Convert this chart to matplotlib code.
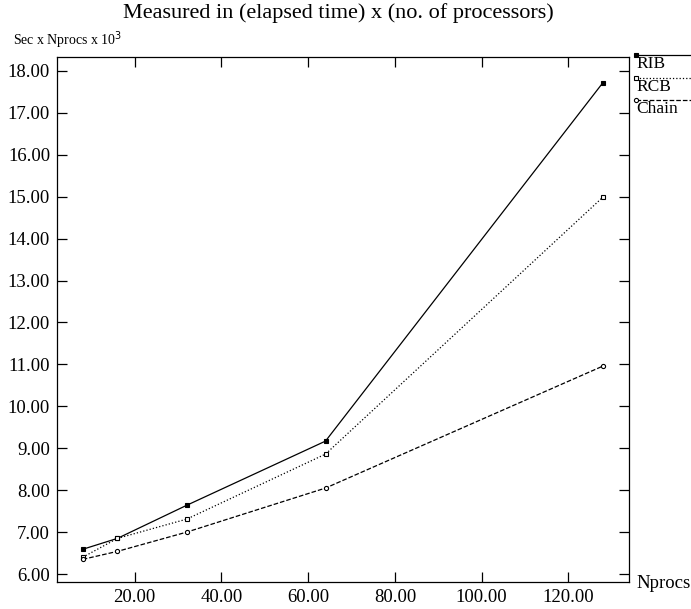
import numpy as np
import matplotlib.pyplot as plt
from matplotlib.lines import Line2D

plt.rcParams['font.family'] = ['Liberation Serif', 'DejaVu Serif']

nprocs = [8, 16, 32, 64, 128]
rib = [6.59, 6.85, 7.64, 9.17, 17.72]
rcb = [6.40, 6.85, 7.31, 8.86, 14.99]
chain = [6.35, 6.54, 7.00, 8.05, 10.96]

series = [("RIB", rib, '-', 's', 'black'),
          ("RCB", rcb, ':', 's', 'white'),
          ("Chain", chain, '--', 'o', 'white')]

fig = plt.figure(figsize=(6.91, 6.09), dpi=100)
W, H = 691.0, 609.0
ax = fig.add_axes([57/W, 1-582/H, 572/W, 525/H])

for name, vals, ls, mk, fc in series:
    ax.plot(nprocs, vals, linestyle=ls, color='black', linewidth=0.9,
            marker=mk, markersize=3.5 if mk == 's' else 3,
            markerfacecolor=fc, markeredgecolor='black', markeredgewidth=0.8)

ax.set_xlim(2.07, 134.0)
ax.set_ylim(5.81, 18.33)
ax.set_xticks(np.arange(20, 121, 20))
ax.set_yticks(np.arange(6, 19, 1))
ax.xaxis.set_major_formatter(plt.FormatStrFormatter('%.2f'))
ax.yaxis.set_major_formatter(plt.FormatStrFormatter('%.2f'))
ax.tick_params(direction='in', length=7, width=0.9, top=True, right=True,
               labelsize=13.5, pad=5)
for s in ax.spines.values():
    s.set_linewidth(0.9)

fig.text(338/W, 1-13/H, "Measured in (elapsed time) x (no. of processors)",
         ha='center', va='center', fontsize=16)
fig.text(13/W, 1-40/H, r"Sec x Nprocs x 10$^{3}$", ha='left', va='center',
         fontsize=10)
fig.text(636/W, 1-583/H, "Nprocs", ha='left', va='center', fontsize=13.5)

# legend at the right
leg_y = [55, 78, 100]
for (name, vals, ls, mk, fc), y in zip(series, leg_y):
    fig.add_artist(Line2D([636/W, 691/W], [1-y/H, 1-y/H], transform=fig.transFigure,
                          linestyle=ls, color='black', linewidth=0.9))
    fig.add_artist(Line2D([636/W], [1-y/H], transform=fig.transFigure,
                          marker=mk, markersize=3.5 if mk == 's' else 3,
                          markerfacecolor=fc, markeredgecolor='black',
                          markeredgewidth=0.8, linestyle='none'))
    fig.text(636/W, 1-(y+9)/H, name, ha='left', va='center', fontsize=12.5)

fig.savefig("out.png", dpi=100)
